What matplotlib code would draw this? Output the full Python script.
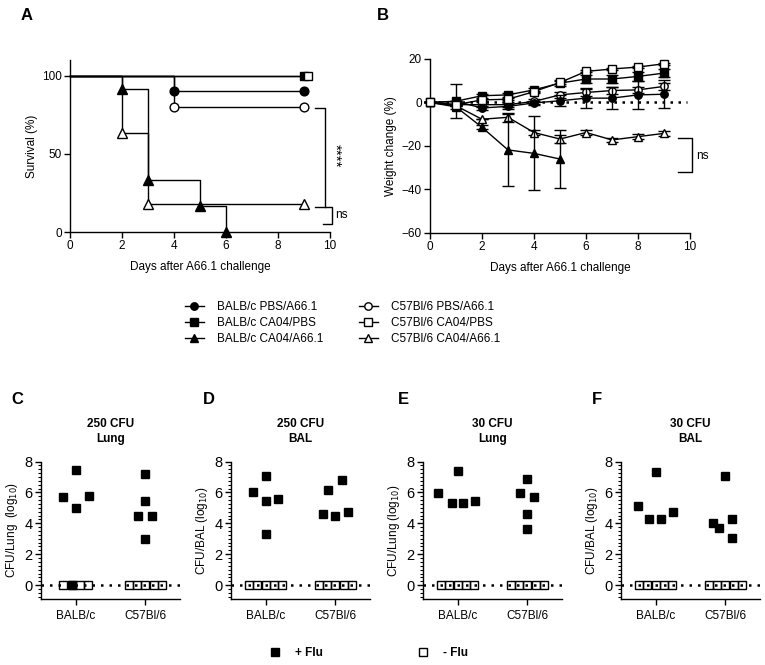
import matplotlib
matplotlib.use("Agg")
import matplotlib.pyplot as plt
from matplotlib.lines import Line2D
import numpy as np

plt.rcParams['font.family'] = ['Liberation Sans', 'DejaVu Sans']
plt.rcParams['axes.linewidth'] = 1.0

# ---------------- data ----------------
series_names = ["BALB/c PBS/A66.1", "BALB/c CA04/PBS", "BALB/c CA04/A66.1",
                "C57Bl/6 PBS/A66.1", "C57Bl/6 CA04/PBS", "C57Bl/6 CA04/A66.1"]
series_markers = ["o", "s", "^", "o", "s", "^"]
series_filled = [True, True, True, False, False, False]

# Panel A: survival (step times and survival %)
surv_times = [[0, 4, 9], [0, 9], [0, 2, 3, 5, 6],
              [0, 4, 9], [0, 9], [0, 2, 3, 9]]
surv_vals = [[100, 90, 90], [100, 100], [100, 91.7, 33.3, 16.7, 0],
             [100, 80, 80], [100, 100], [100, 63.6, 18.2, 18.2]]
surv_offset = [0, 0, 0, 0, 0.17, 0]  # small horizontal offset of overlapping end symbol

# Panel B: weight change
days = [0, 1, 2, 3, 4, 5, 6, 7, 8, 9]
wt_balb_pbs = [0, 0.5, -2.5, -1.8, -0.2, 0.8, 2.0, 2.0, 3.5, 3.8]
wt_balb_ca04 = [0, 0.6, 3.1, 3.5, 5.8, 8.9, 10.8, 10.8, 12.0, 13.5]
wt_balb_ca04_a66 = [0, -2.0, -11.4, -21.8, -23.4, -26.0]
wt_c57_pbs = [0, -1.0, -1.0, -1.0, 0.5, 3.5, 4.6, 5.5, 5.8, 7.4]
wt_c57_ca04 = [0, -1.0, 1.2, 1.5, 5.0, 9.2, 14.3, 15.4, 16.3, 17.8]
wt_c57_ca04_a66 = [0, -1.5, -7.7, -6.8, -13.8, -16.8, -13.8, -17.2, -15.7, -14.2]
sd_balb_pbs = [0, 0, 1.0, 1.0, 1.0, 2.5, 4.5, 5.0, 6.5, 6.5]
sd_balb_ca04 = [0, 7.9, 1.0, 1.0, 1.0, 1.5, 2.0, 2.0, 2.0, 2.0]
sd_balb_ca04_a66 = [0, 1.0, 1.0, 16.5, 17.0, 13.5]
sd_c57_pbs = [0, 0, 1.0, 1.0, 1.0, 1.5, 1.5, 1.5, 1.5, 1.5]
sd_c57_ca04 = [0, 0, 0.5, 0.5, 0.5, 0.5, 0.5, 0.5, 0.5, 0.5]
sd_c57_ca04_a66 = [0, 0, 0, 2.0, 1.0, 2.0, 1.0, 1.0, 1.0, 1.0]
weights = [wt_balb_pbs, wt_balb_ca04, wt_balb_ca04_a66,
           wt_c57_pbs, wt_c57_ca04, wt_c57_ca04_a66]
weight_sds = [sd_balb_pbs, sd_balb_ca04, sd_balb_ca04_a66,
              sd_c57_pbs, sd_c57_ca04, sd_c57_ca04_a66]

# Panels C-F: CFU (log10), +Flu values with jitter offsets; -Flu all at 0
groups = ["BALB/c", "C57Bl/6"]
panel_letters = ["C", "D", "E", "F"]
panel_titles = ["250 CFU\nLung", "250 CFU\nBAL", "30 CFU\nLung", "30 CFU\nBAL"]
panel_ylabels = ["CFU/Lung  (log$_{10}$)", "CFU/BAL (log$_{10}$)",
                 "CFU/Lung (log$_{10}$)", "CFU/BAL (log$_{10}$)"]
flu_C = [[5.73, 7.42, 5.02, 5.77, 0.0], [7.18, 5.47, 4.5, 4.5, 2.96]]
jit_C = [[-0.18, 0.0, 0.0, 0.19, -0.06], [0.0, 0.0, -0.1, 0.1, 0.0]]
flu_D = [[6.04, 7.07, 5.46, 5.57, 3.32], [6.15, 6.79, 4.6, 4.48, 4.75]]
jit_D = [[-0.18, 0.0, 0.0, 0.18, 0.0], [-0.1, 0.09, -0.18, 0.0, 0.18]]
flu_E = [[5.95, 5.30, 7.39, 5.30, 5.47], [5.99, 6.88, 5.71, 4.6, 3.63]]
jit_E = [[-0.29, -0.08, 0.0, 0.08, 0.245], [-0.1, 0.0, 0.09, 0.0, 0.0]]
flu_F = [[5.11, 4.30, 7.35, 4.30, 4.72], [4.02, 3.70, 7.09, 4.30, 3.04]]
jit_F = [[-0.25, -0.09, 0.0, 0.08, 0.25], [-0.18, -0.09, 0.0, 0.1, 0.1]]
noflu_vals = [[[0, 0, 0, 0], [0, 0, 0, 0, 0]],
              [[0, 0, 0, 0, 0], [0, 0, 0, 0, 0]],
              [[0, 0, 0, 0, 0], [0, 0, 0, 0, 0]],
              [[0, 0, 0, 0, 0], [0, 0, 0, 0, 0]]]
noflu_jit = [[[-0.18, -0.06, 0.06, 0.18], [-0.24, -0.12, 0, 0.12, 0.24]],
             [[-0.24, -0.12, 0, 0.12, 0.24], [-0.24, -0.12, 0, 0.12, 0.24]],
             [[-0.24, -0.12, 0, 0.12, 0.24], [-0.24, -0.12, 0, 0.12, 0.24]],
             [[-0.24, -0.12, 0, 0.12, 0.24], [-0.24, -0.12, 0, 0.12, 0.24]]]
flu_all = [flu_C, flu_D, flu_E, flu_F]
jit_all = [jit_C, jit_D, jit_E, jit_F]

# ---------------- figure ----------------
W, H = 765, 665
fig = plt.figure(figsize=(W / 100, H / 100), dpi=100)


def ax_px(l, r, t, b):
    return fig.add_axes([l / W, 1 - b / H, (r - l) / W, (b - t) / H])


def style(ax):
    ax.spines['top'].set_visible(False)
    ax.spines['right'].set_visible(False)
    ax.tick_params(direction='out', length=4, width=1, labelsize=8.5, pad=2)


def mstyle(i, scale=1.0):
    base = 6.3 if series_markers[i] != '^' else 6.8
    return dict(marker=series_markers[i], color='black',
                mfc='black' if series_filled[i] else 'white', mec='black',
                mew=1.0, ms=base * scale)

# Panel A
axA = ax_px(70, 330, 60, 232)
style(axA)
for i in range(6):
    t = np.array(surv_times[i], dtype=float)
    v = np.array(surv_vals[i], dtype=float)
    axA.step(t, v, where='post', color='black', lw=1.0, clip_on=False, zorder=2)
    axA.plot(t[1:] + np.where(t[1:] == t[-1], surv_offset[i], 0), v[1:], ls='none',
             clip_on=False, zorder=3, **mstyle(i))
axA.set_xlim(0, 10)
axA.set_ylim(0, 110)
axA.set_xticks([0, 2, 4, 6, 8, 10])
axA.set_yticks([0, 50, 100])
axA.set_xlabel("Days after A66.1 challenge", fontsize=8.5, labelpad=6)
axA.set_ylabel("Survival (%)", fontsize=8.5, labelpad=3)
# significance brackets
kA = dict(color='black', lw=1.0, clip_on=False)
axA.plot([9.42, 9.81, 9.81], [79.6, 79.6, 15.9], **kA)
axA.plot([9.42, 10.08, 10.08, 9.73], [15.9, 15.9, 5.1, 5.1], **kA)
axA.text(10.2, 49, "****", rotation=-90, ha='center', va='center', fontsize=11)
axA.text(10.2, 11, "ns", ha='left', va='center', fontsize=8.5)

# Panel B
axB = ax_px(430, 690, 59, 233)
style(axB)
axB.plot([0, 9.9], [0, 0], ls=(0, (1, 2.2)), color='black', lw=1.8, zorder=1)
order = [5, 2, 3, 0, 1, 4]
for i in order:
    d = days[:len(weights[i])]
    axB.errorbar(d, weights[i], yerr=weight_sds[i], lw=1.0, ecolor='black',
                 elinewidth=1.0, capsize=4, capthick=1.0, clip_on=False, zorder=2 + order.index(i),
                 **mstyle(i, 0.85))
axB.set_xlim(0, 10)
axB.set_ylim(-60, 20)
axB.set_xticks([0, 2, 4, 6, 8, 10])
axB.set_yticks([-60, -40, -20, 0, 20])
axB.set_xlabel("Days after A66.1 challenge", fontsize=8.5, labelpad=6)
axB.set_ylabel("Weight change (%)", fontsize=8.5, labelpad=3)
axB.plot([9.54, 10.08, 10.08, 9.54], [-16.5, -16.5, -31.8, -31.8], color='black', lw=1.0, clip_on=False)
axB.text(10.25, -24.6, "ns", ha='left', va='center', fontsize=8.5)

# panel letters A, B
fig.text(27 / W, 1 - 15 / H, "A", fontsize=12, fontweight='bold', ha='center', va='center')
fig.text(383 / W, 1 - 15 / H, "B", fontsize=12, fontweight='bold', ha='center', va='center')

# Legend for A/B
h1 = [Line2D([], [], lw=1.0, **mstyle(i, 0.85)) for i in range(3)]
h2 = [Line2D([], [], lw=1.0, **mstyle(i, 0.85)) for i in range(3, 6)]
kw = dict(frameon=False, fontsize=8.5, handlelength=1.6, handletextpad=1.1, labelspacing=0.35,
          borderaxespad=0, loc='upper left')
fig.legend(h1, series_names[:3], bbox_to_anchor=(180 / W, 1 - 296 / H), **kw)
fig.legend(h2, series_names[3:], bbox_to_anchor=(354 / W, 1 - 296 / H), **kw)

# Panels C-F
lefts = [41, 231, 423, 621]
letter_x = [17, 209, 403, 597]
for p in range(4):
    l = lefts[p]
    ax = ax_px(l, l + 139, 461.5, 599)
    style(ax)
    ax.tick_params(axis='y', labelsize=10.5)
    ax.tick_params(axis='x', labelsize=8.5, pad=4)
    ax.plot([-0.5, 1.55], [0, 0], ls=(0, (1, 2.4)), color='black', lw=1.8, zorder=1, clip_on=False)
    for g in range(2):
        xs = g + np.array(noflu_jit[p][g])
        ax.plot(xs, noflu_vals[p][g], ls='none', marker='s', ms=6.0, mfc='none', mec='black',
                mew=1.0, zorder=3, clip_on=False)
    for g in range(2):
        xs = g + np.array(jit_all[p][g])
        ax.plot(xs, flu_all[p][g], ls='none', marker='s', ms=6.3, mfc='black', mec='black',
                zorder=4, clip_on=False)
    ax.set_xlim(-0.5, 1.5)
    ax.set_ylim(-0.9, 8)
    ax.set_yticks([0, 2, 4, 6, 8])
    ax.set_yticks(np.arange(-0.75, 8.01, 0.25), minor=True)
    ax.tick_params(axis='y', which='minor', length=2, width=0.8)
    ax.set_xticks([0, 1])
    ax.set_xticklabels(groups)
    ax.set_ylabel(panel_ylabels[p], fontsize=8.5, labelpad=3)
    ax.set_title(panel_titles[p], fontsize=8.5, fontweight='bold', pad=14, linespacing=1.3)
    fig.text(letter_x[p] / W, 1 - 400 / H, panel_letters[p], fontsize=12, fontweight='bold',
             ha='center', va='center')

# bottom legend
hf = [Line2D([], [], ls='none', marker='s', ms=6.3, mfc='black', mec='black')]
hn = [Line2D([], [], ls='none', marker='s', ms=6.3, mfc='white', mec='black')]
kb = dict(frameon=False, handlelength=1.0, handletextpad=1.2, borderaxespad=0, loc='center left',
          prop={'weight': 'bold', 'size': 8.5})
fig.legend(hf, ["+ Flu"], bbox_to_anchor=(264 / W, 1 - 653 / H), **kb)
fig.legend(hn, ["- Flu"], bbox_to_anchor=(412 / W, 1 - 653 / H), **kb)

fig.savefig("out.png", dpi=100)
